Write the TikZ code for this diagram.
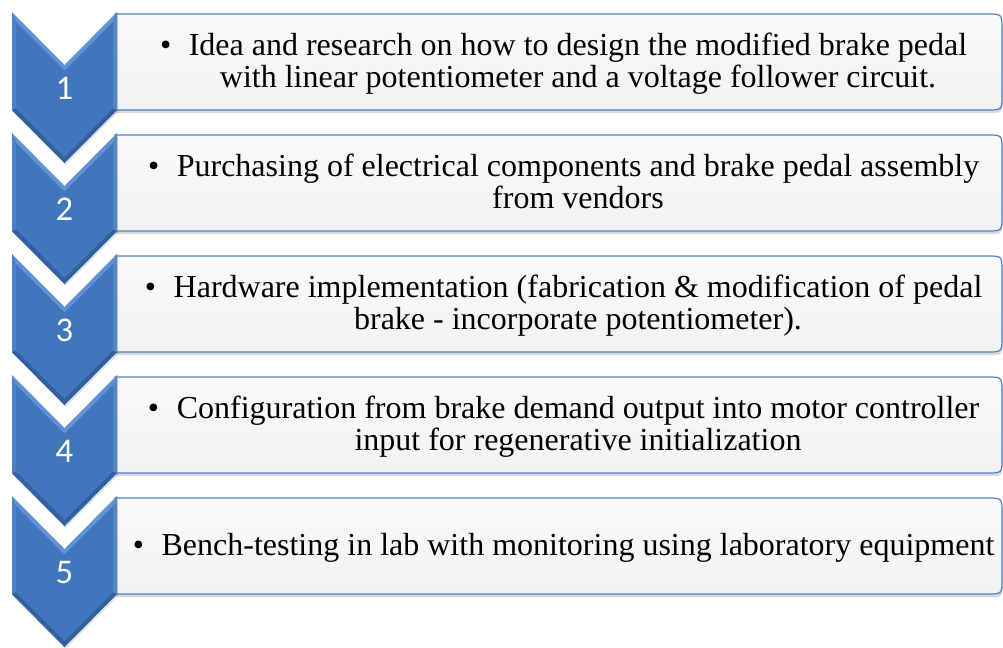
\documentclass[tikz,border=0pt]{standalone}
\usepackage{fontspec}
\setmainfont{Liberation Serif}
\newfontfamily\numfont{Carlito}
\usepackage{tikz}
\usetikzlibrary{shadows}
\definecolor{chevBlue}{RGB}{64,118,188}
\definecolor{chevLight}{RGB}{96,146,212}
\definecolor{chevDark}{RGB}{50,96,158}
\definecolor{boxLine}{RGB}{79,129,189}
\definecolor{boxFill}{RGB}{242,242,242}
\newcommand{\bul}{\llap{\textbullet\hspace{0.55em}}}

\begin{document}
\begin{tikzpicture}[x=0.75pt, y=-0.75pt,
  stepbox/.style={draw=boxLine, line width=0.9pt, top color=boxFill!40!white, bottom color=boxFill,
    drop shadow={shadow xshift=0.6pt, shadow yshift=-2.4pt, opacity=0.3}},
  steptext/.style={font=\fontsize{24}{24.5}\selectfont, inner sep=0pt},
  stepnum/.style={font=\numfont\fontsize{26}{26}\selectfont, text=white, inner sep=0pt}]
\useasboundingbox (0,0) rectangle (1003,647);
\foreach \i/\lbl in {1/{\bul Idea and research on how to design the modified brake pedal\\with linear potentiometer and a voltage follower circuit.},
  2/{\bul Purchasing of electrical components and brake pedal assembly\\from vendors},
  3/{\bul Hardware implementation (fabrication \& modification of pedal\\brake - incorporate potentiometer).},
  4/{\bul Configuration from brake demand output into motor controller\\input for regenerative initialization},
  5/{\bul Bench-testing in lab with monitoring using laboratory equipment}}{
\pgfmathsetmacro{\t}{12+121*(\i-1)}
\path[stepbox] (115,\t+98) -- (115,\t+2) -- (987,\t+2) .. controls (1002,\t+2) .. (1002,\t+17)
  -- (1002,\t+83) .. controls (1002,\t+98) .. (987,\t+98) -- cycle;
\node[steptext] (txt\i) at (578,\t+53) {\begin{tabular}{@{}c@{}}\lbl\end{tabular}};
\fill[black, opacity=0.12] (13,\t+2) -- (65.5,\t+55) -- (118,\t+2) -- (118,\t+100) -- (65.5,\t+153) -- (13,\t+100) -- cycle;
\fill[chevLight] (12,\t) -- (64.5,\t+53) -- (117,\t) -- (117,\t+98) -- (64.5,\t+151) -- (12,\t+98) -- cycle;
\fill[chevDark] (117,\t+98) -- (64.5,\t+151) -- (12,\t+98) -- (16,\t+96) -- (64.5,\t+145) -- (113,\t+96) -- cycle;
\fill[chevBlue!88!white] (117,\t) -- (117,\t+98) -- (113,\t+96) -- (113,\t+10) -- cycle;
\fill[chevBlue!60!chevLight] (12,\t) -- (12,\t+98) -- (16,\t+96) -- (16,\t+10) -- cycle;
\fill[chevBlue] (16,\t+10) -- (64.5,\t+58.5) -- (113,\t+10) -- (113,\t+96) -- (64.5,\t+145) -- (16,\t+96) -- cycle;
\node[stepnum] (num\i) at (64.5,\t+76) {\i};
}
\end{tikzpicture}
\end{document}
